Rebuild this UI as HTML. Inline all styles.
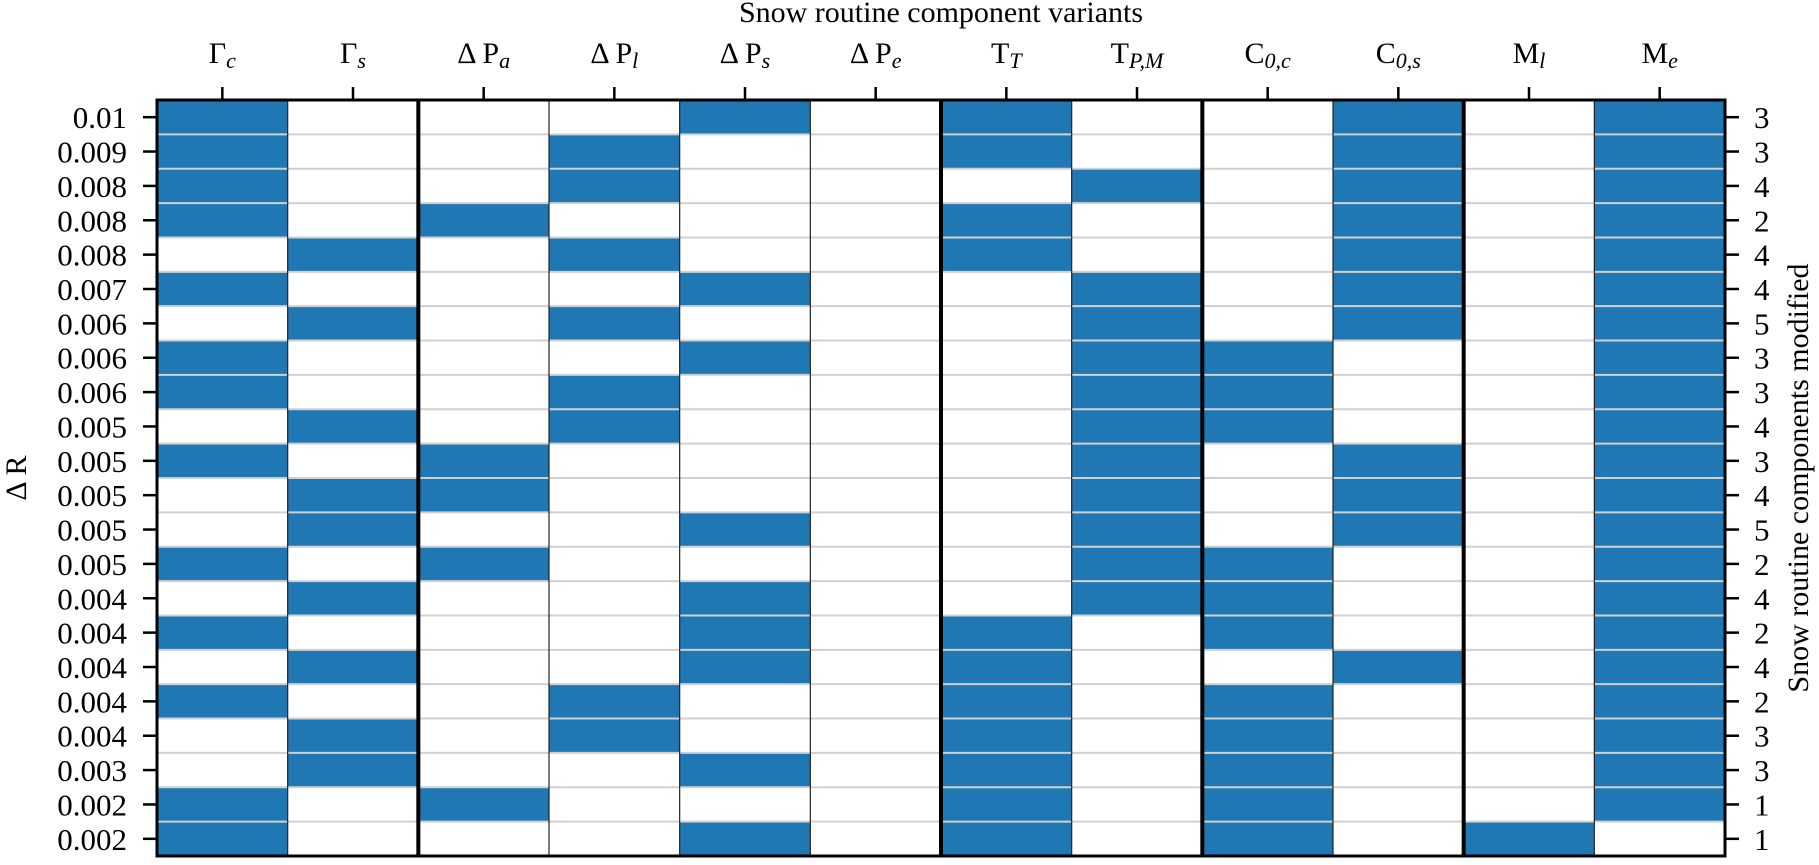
<!DOCTYPE html>
<html><head><meta charset="utf-8"><style>
body{margin:0;background:#fff}
svg text{font-family:"Liberation Serif","DejaVu Serif",serif;fill:#000}
</style></head><body>
<svg id="chart" width="1819" height="860" xmlns="http://www.w3.org/2000/svg"></svg>
<script>
const columns=["Γc","Γs","ΔPa","ΔPl","ΔPs","ΔPe","TT","TPM","C0c","C0s","Ml","Me"];
const colSubs=[["Γ","c"],["Γ","s"],["Δ P","a"],["Δ P","l"],["Δ P","s"],["Δ P","e"],["T","T"],["T","P,M"],["C","0,c"],["C","0,s"],["M","l"],["M","e"]];
const rowLabels=["0.01","0.009","0.008","0.008","0.008","0.007","0.006","0.006","0.006","0.005","0.005","0.005","0.005","0.005","0.004","0.004","0.004","0.004","0.004","0.003","0.002","0.002"];
const rightLabels=["3","3","4","2","4","4","5","3","3","4","3","4","5","2","4","2","4","2","3","3","1","1"];
const cells=[
[1,0,0,0,1,0,1,0,0,1,0,1],
[1,0,0,1,0,0,1,0,0,1,0,1],
[1,0,0,1,0,0,0,1,0,1,0,1],
[1,0,1,0,0,0,1,0,0,1,0,1],
[0,1,0,1,0,0,1,0,0,1,0,1],
[1,0,0,0,1,0,0,1,0,1,0,1],
[0,1,0,1,0,0,0,1,0,1,0,1],
[1,0,0,0,1,0,0,1,1,0,0,1],
[1,0,0,1,0,0,0,1,1,0,0,1],
[0,1,0,1,0,0,0,1,1,0,0,1],
[1,0,1,0,0,0,0,1,0,1,0,1],
[0,1,1,0,0,0,0,1,0,1,0,1],
[0,1,0,0,1,0,0,1,0,1,0,1],
[1,0,1,0,0,0,0,1,1,0,0,1],
[0,1,0,0,1,0,0,1,1,0,0,1],
[1,0,0,0,1,0,1,0,1,0,0,1],
[0,1,0,0,1,0,1,0,0,1,0,1],
[1,0,0,1,0,0,1,0,1,0,0,1],
[0,1,0,1,0,0,1,0,1,0,0,1],
[0,1,0,0,1,0,1,0,1,0,0,1],
[1,0,1,0,0,0,1,0,1,0,0,1],
[1,0,0,0,1,0,1,0,1,0,1,0]];
const groupBounds=[2,6,8,10];
const svg=document.getElementById('chart');
const NS='http://www.w3.org/2000/svg';
const L=157,R=1725,T=100,B=856;
const cw=(R-L)/columns.length, rh=(B-T)/rowLabels.length;
const x=i=>L+i*cw, y=j=>T+j*rh;
function mk(tag,a){const e=document.createElementNS(NS,tag);for(const k in a)e.setAttribute(k,a[k]);svg.appendChild(e);return e;}
cells.forEach((row,j)=>row.forEach((v,i)=>{
 const r=mk('rect',{x:x(i),y:y(j),width:cw,height:rh,fill:v?'#1f77b4':'#fff'});
 
 
}));
for(let j=1;j<rowLabels.length;j++){const l=mk('line',{x1:L,x2:R,y1:y(j),y2:y(j),stroke:'#d0d0d0','stroke-width':2});
 
 }
for(let i=1;i<columns.length;i++){const th=groupBounds.includes(i);const l=mk('line',{x1:x(i),x2:x(i),y1:T,y2:B,stroke:th?'#000':'#222','stroke-width':th?4:1.2});
 
 }
const fr=mk('rect',{x:L,y:T,width:R-L,height:B-T,fill:'none',stroke:'#000','stroke-width':3});


colSubs.forEach((c,i)=>{const cx=x(i)+cw/2;
 const tk=mk('line',{x1:cx,x2:cx,y1:T-13,y2:T,stroke:'#000','stroke-width':2.5});
 
 
 const t=mk('text',{x:cx,y:63,'text-anchor':'middle','font-size':30});
 
 
 t.textContent=c[0];const s=document.createElementNS(NS,'tspan');s.setAttribute('font-style','italic');s.setAttribute('font-size','22');s.setAttribute('dy','5');s.textContent=c[1];t.appendChild(s);});
rowLabels.forEach((lab,j)=>{const cy=y(j)+rh/2;
 const a=mk('line',{x1:L-14,x2:L,y1:cy,y2:cy,stroke:'#000','stroke-width':2.5});
 
 
 const b=mk('line',{x1:R,x2:R+14,y1:cy,y2:cy,stroke:'#000','stroke-width':2.5});
 
 
 const t=mk('text',{x:127,y:cy+11,'text-anchor':'end','font-size':31});
 
 
 t.textContent=lab;
 const t2=mk('text',{x:1754,y:cy+11,'font-size':31});
 
 
 t2.textContent=rightLabels[j];});
const tt=mk('text',{x:(L+R)/2,y:22,'text-anchor':'middle','font-size':30});


tt.textContent='Snow routine component variants';
const yl=mk('text',{x:0,y:0,'text-anchor':'middle','font-size':30,transform:'translate(26,'+((T+B)/2)+') rotate(-90)'});


yl.textContent='Δ R';
const yr=mk('text',{x:0,y:0,'text-anchor':'middle','font-size':30,transform:'translate(1808,'+((T+B)/2)+') rotate(-90)'});


yr.textContent='Snow routine components modified';
</script>
</body></html>
